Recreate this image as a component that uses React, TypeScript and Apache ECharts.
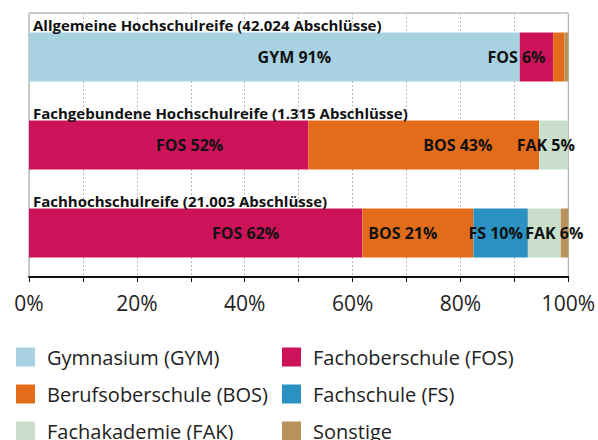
import React, { useEffect, useRef } from "react";
import * as echarts from "echarts";

const categories = [
  "Allgemeine Hochschulreife (42.024 Abschlüsse)",
  "Fachgebundene Hochschulreife (1.315 Abschlüsse)",
  "Fachhochschulreife (21.003 Abschlüsse)",
];

const seriesNames = [
  "Gymnasium (GYM)",
  "Fachoberschule (FOS)",
  "Berufsoberschule (BOS)",
  "Fachschule (FS)",
  "Fachakademie (FAK)",
  "Sonstige",
];
const seriesCodes = ["GYM", "FOS", "BOS", "FS", "FAK", ""];

const gymValues = [91.0, 0, 0];
const fosValues = [6.2, 51.8, 61.8];
const bosValues = [2.1, 42.8, 20.6];
const fsValues = [0, 0, 10.1];
const fakValues = [0, 5.4, 6.1];
const sonstigeValues = [0.7, 0, 1.4];

const xTickLabels = ["0%", "20%", "40%", "60%", "80%", "100%"];

const allValues = [gymValues, fosValues, bosValues, fsValues, fakValues, sonstigeValues];

const colors = ["#a8d1e1", "#cc1359", "#e36c1a", "#2a91c2", "#c9dfcb", "#b8925a"];

// label horizontal nudges (style), per series per category
const labelShift = [
  [20, 0, 0],
  [-20, 21, 50],
  [0, 34, -15],
  [0, 0, -5],
  [0, -8, 10],
  [0, 0, 0],
];

// legend slot layout (style): [left, top] for each series
const legendSlots = [
  [16, 347],
  [282, 347],
  [16, 384],
  [282, 384],
  [16, 421],
  [282, 421],
];

const FONT = "'Open Sans', 'Noto Sans', sans-serif";

export default function App() {
  const ref = useRef<HTMLDivElement>(null);
  useEffect(() => {
    if (!ref.current) return;
    const chart = echarts.init(ref.current, null, { renderer: "svg" });
    const series = seriesNames.map((name, si) => ({
      name,
      type: "bar",
      stack: "total",
      barWidth: 49,
      itemStyle: { color: colors[si] },
      data: allValues[si].map((v, ci) => ({
        value: v,
        label: {
          show: v >= 5 && seriesCodes[si] !== "",
          position: "inside",
          offset: [labelShift[si][ci], 0],
          formatter: `${seriesCodes[si]} ${Math.round(v)}%`,
          color: "#111",
          fontWeight: "bold",
          fontSize: 16,
          fontFamily: FONT,
        },
      })),
    }));
    const legends = seriesNames.map((name, si) => ({
      data: [name],
      orient: "horizontal",
      left: legendSlots[si][0],
      top: legendSlots[si][1],
      padding: 0,
      itemWidth: 19,
      itemHeight: 19,
      icon: "rect",
      textStyle: { fontSize: 20, color: "#222", fontFamily: FONT, padding: [0, 0, 0, 7] },
    }));
    chart.setOption({
      animation: false,
      textStyle: { fontFamily: FONT },
      grid: {
        left: 29,
        right: 28,
        top: 13,
        bottom: 163,
        show: true,
        borderColor: "#999",
        borderWidth: 1,
        containLabel: false,
      },
      legend: legends,
      xAxis: {
        type: "value",
        min: 0,
        max: 100,
        interval: 10,
        axisLine: { show: true, lineStyle: { color: "#111", width: 2 } },
        axisTick: { show: true, length: 5, lineStyle: { color: "#111" } },
        axisLabel: {
          fontSize: 21,
          color: "#222",
          margin: 15,
          fontFamily: FONT,
          formatter: (v: number) => (v % 20 === 0 ? xTickLabels[v / 20] : ""),
        },
        splitLine: { show: true, lineStyle: { color: "#bbb", type: [2, 2], width: 1 } },
      },
      yAxis: {
        type: "category",
        data: categories,
        inverse: true,
        axisLine: { show: false },
        axisTick: { show: false },
        axisLabel: {
          inside: true,
          margin: 4,
          align: "left",
          verticalAlign: "bottom",
          padding: [0, 0, 25, 0],
          fontSize: 15,
          fontWeight: "bold",
          color: "#111",
          fontFamily: FONT,
        },
        z: 10,
      },
      series,
    });
    return () => chart.dispose();
  }, []);
  return (
    <div
      ref={ref}
      style={{ position: "absolute", left: 0, top: 0, width: 598, height: 440 }}
    />
  );
}
